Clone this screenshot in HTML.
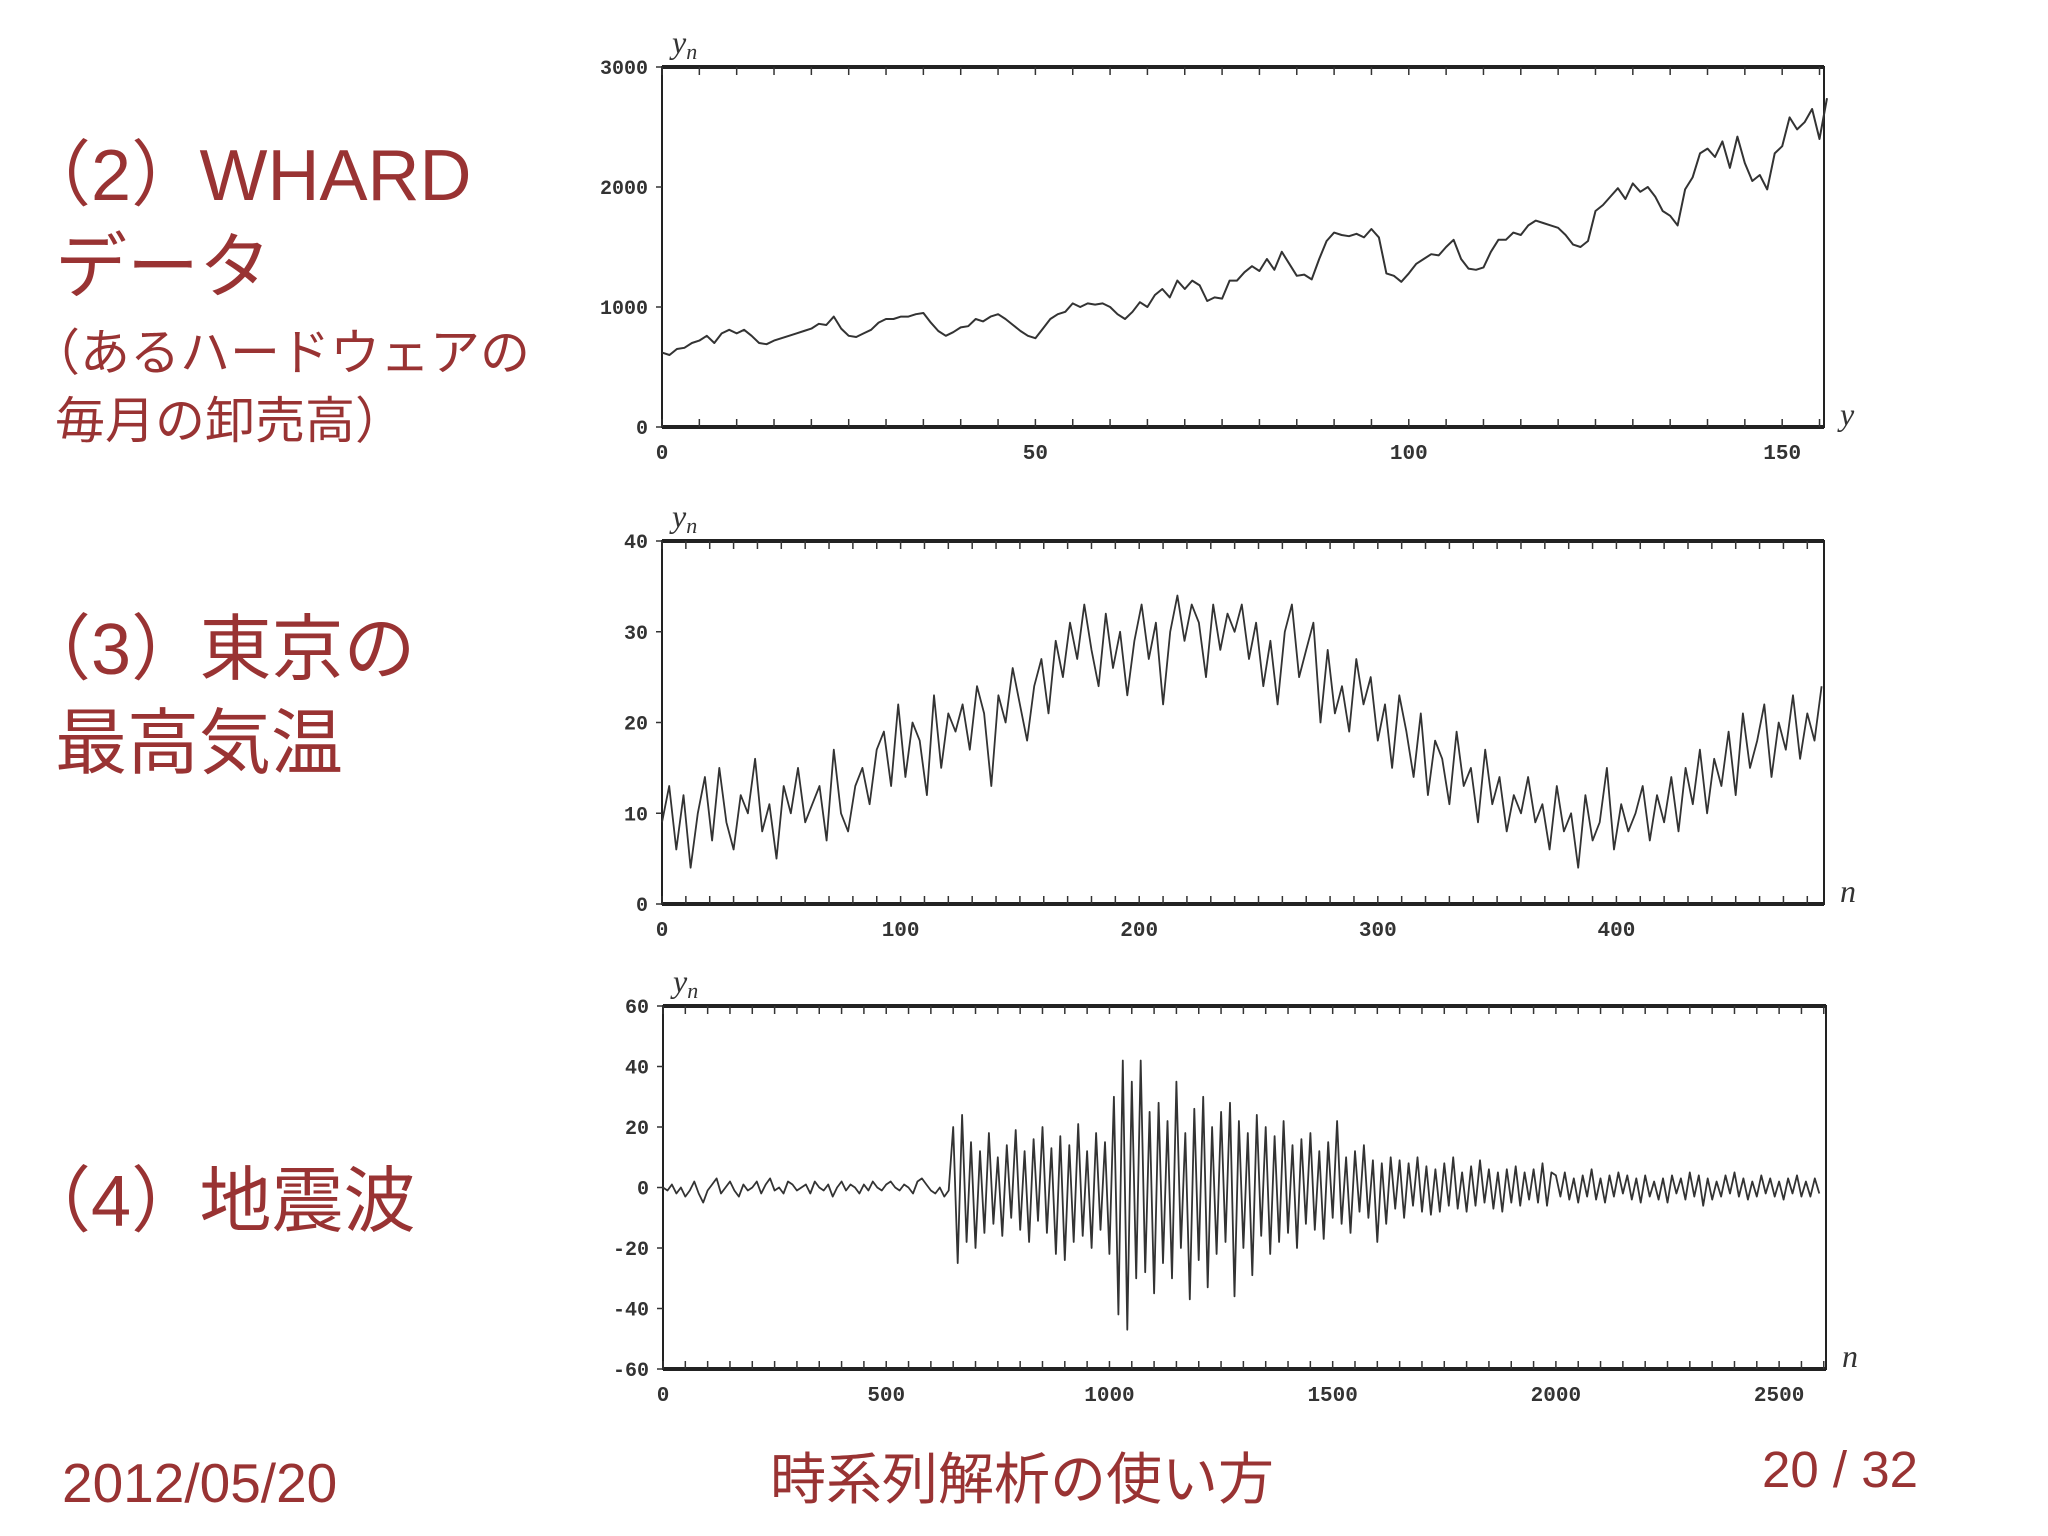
<!DOCTYPE html>
<html><head><meta charset="utf-8">
<style>
html,body{margin:0;padding:0;background:#fff;}
body{width:2048px;height:1536px;position:relative;overflow:hidden;font-family:"Liberation Sans","Noto Sans CJK JP",sans-serif;}
.t{position:absolute;color:#993333;white-space:nowrap;line-height:1;}
.po{margin-left:-0.5em;}
.pc{margin-right:-0.05em;}
svg{position:absolute;left:0;top:0;}
</style></head><body>
<div class="t" style="left:55px;top:140px;font-size:72px;"><span class="po">（</span>2<span class="pc">）</span>WHARD</div>
<div class="t" style="left:55px;top:232px;font-size:72px;">データ</div>
<div class="t" style="left:55px;top:328px;font-size:50px;"><span class="po">（</span>あるハードウェアの</div>
<div class="t" style="left:55px;top:396px;font-size:50px;">毎月の卸売高）</div>
<div class="t" style="left:55px;top:614px;font-size:72px;"><span class="po">（</span>3<span class="pc">）</span>東京の</div>
<div class="t" style="left:55px;top:708px;font-size:72px;">最高気温</div>
<div class="t" style="left:55px;top:1166px;font-size:72px;"><span class="po">（</span>4<span class="pc">）</span>地震波</div>
<div class="t" style="left:62px;top:1456px;font-size:55px;">2012/05/20</div>
<div class="t" style="left:770px;top:1452px;font-size:56px;">時系列解析の使い方</div>
<div class="t" style="left:1762px;top:1444px;font-size:51px;">20 / 32</div>
<svg id="s" width="2048" height="1536"></svg>
<script>
const whardValues=[620,600,650,660,700,720,760,700,780,810,780,810,760,700,690,720,740,760,780,800,820,860,850,920,820,760,750,780,810,870,900,900,920,920,940,950,870,800,760,790,830,840,900,880,920,940,900,850,800,760,740,820,900,940,960,1030,1000,1030,1020,1030,1000,940,900,960,1040,1000,1100,1150,1080,1220,1150,1220,1180,1050,1080,1070,1220,1220,1290,1340,1300,1400,1310,1460,1360,1260,1270,1230,1400,1550,1620,1600,1590,1610,1580,1650,1580,1280,1260,1210,1280,1360,1400,1440,1430,1500,1560,1400,1320,1310,1330,1460,1560,1560,1620,1600,1680,1720,1700,1680,1660,1600,1520,1500,1550,1800,1850,1920,1990,1900,2030,1960,2000,1920,1800,1760,1680,1980,2080,2280,2320,2250,2380,2160,2420,2200,2050,2100,1980,2280,2340,2580,2480,2540,2650,2400,2740];
const whardXTicks=[0,50,100,150];
const whardYTicks=[0,1000,2000,3000];
const tempStep=3;
const tempValues=[9,13,6,12,4,10,14,7,15,9,6,12,10,16,8,11,5,13,10,15,9,
11,13,7,17,10,8,13,15,11,17,19,13,22,14,20,18,12,23,15,21,
19,22,17,24,21,13,23,20,26,22,18,24,27,21,29,25,31,27,33,28,
24,32,26,30,23,29,33,27,31,22,30,34,29,33,31,25,33,28,32,30,
33,27,31,24,29,22,30,33,25,28,31,20,28,21,24,19,27,22,25,18,
22,15,23,19,14,21,12,18,16,11,19,13,15,9,17,11,14,8,12,10,
14,9,11,6,13,8,10,4,12,7,9,15,6,11,8,10,13,7,12,9,
14,8,15,11,17,10,16,13,19,12,21,15,18,22,14,20,17,23,16,21,18,24];
const tempXTicks=[0,100,200,300,400];
const tempYTicks=[0,10,20,30,40];
const quakeStep=10;
const quakeValues=[0,-1,1,-2,0,-3,-1,2,-2,-5,-1,1,3,-2,0,2,-1,-3,1,-1,0,2,-2,1,3,-1,0,-2,2,1,-1,0,1,-2,2,0,-1,1,-3,0,2,-1,1,0,-2,1,-1,2,0,-1,1,2,0,-1,1,0,-2,2,3,1,-1,-2,0,-3,-1,
20,-25,24,-18,15,-20,12,-15,18,-12,10,-16,14,-10,19,-14,12,-18,16,-11,20,-15,13,-22,17,-24,14,-18,21,-16,12,-20,18,-14,15,-22,
30,-42,42,-47,35,-30,42,-28,25,-35,
28,-25,22,-30,35,-20,18,-37,26,-24,30,-33,20,-22,25,-18,28,-36,22,-20,18,-29,24,-16,20,-22,17,-18,22,-15,14,-20,16,-12,18,-14,12,-17,15,-10,
22,-12,10,-15,12,-8,14,-10,9,-18,8,-12,10,-7,9,-10,8,-6,10,-8,7,-9,6,-8,8,-6,10,-7,5,-8,7,-6,9,-5,6,-7,5,-8,6,-5,7,-6,5,-4,6,-5,8,-6,5,
4,-3,5,-4,3,-5,4,-3,6,-4,3,-5,4,-3,5,-2,4,-4,3,-5,4,-3,2,-4,3,-5,4,-2,3,-4,5,-3,4,-6,3,-4,2,-3,4,-2,5,-3,3,-4,2,-3,4,-2,3,-3,2,-4,3,-2,4,-3,2,-3,3,-2];
const quakeXTicks=[0,500,1000,1500,2000,2500];
const quakeYTicks=[-60,-40,-20,0,20,40,60];

const NS='http://www.w3.org/2000/svg';
const svg=document.getElementById('s');
function mk(tag,attrs,parent){const e=document.createElementNS(NS,tag);for(const k in attrs)e.setAttribute(k,attrs[k]);(parent||svg).appendChild(e);return e;}

function chart(o){
  const g=mk('g',{});
  
  
  const sx=v=>o.L+(v-o.x0)/(o.x1-o.x0)*(o.R-o.L);
  const sy=v=>o.B-(v-o.y0)/(o.y1-o.y0)*(o.B-o.T);
  const frame=mk('rect',{x:o.L,y:o.T,width:o.R-o.L,height:o.B-o.T,fill:'none',stroke:'#222','stroke-width':2},g);
  
  
  mk('line',{x1:o.L,x2:o.R,y1:o.T,y2:o.T,stroke:'#222','stroke-width':4},g);
  mk('line',{x1:o.L,x2:o.R,y1:o.B,y2:o.B,stroke:'#222','stroke-width':4},g);
  for(let v=o.x0;v<=o.x1;v+=o.minor){const x=sx(v);
    mk('line',{x1:x,x2:x,y1:o.T,y2:o.T+8,stroke:'#333','stroke-width':1.5},g);
    mk('line',{x1:x,x2:x,y1:o.B,y2:o.B-8,stroke:'#333','stroke-width':1.5},g);}
  o.xt.forEach(v=>{const t=mk('text',{x:sx(v),y:o.B+32,'text-anchor':'middle','font-size':21,'font-weight':'bold','font-family':'Liberation Mono, monospace',fill:'#333'},g);t.textContent=v;
    
    });
  o.yt.forEach(v=>{const y=sy(v);mk('line',{x1:o.L-6,x2:o.L,y1:y,y2:y,stroke:'#333','stroke-width':1.5},g);
    const t=mk('text',{x:o.L-14,y:y+7,'text-anchor':'end','font-size':20,'font-weight':'bold','font-family':'Liberation Mono, monospace',fill:'#333'},g);t.textContent=v;
    
    });
  const yl=mk('text',{x:o.L+10,y:o.T-14,'font-size':32,'font-style':'italic','font-family':'Liberation Serif, serif',fill:'#333'},g);
  yl.innerHTML='y<tspan font-size="22" dy="6">n</tspan>';
  
  
  const xl=mk('text',{x:o.R+16,y:o.B-2,'font-size':32,'font-style':'italic','font-family':'Liberation Serif, serif',fill:'#333'},g);
  xl.textContent=o.xlab;
  
  
  const pts=o.vals.map((v,i)=>sx(i*o.step).toFixed(1)+','+sy(v).toFixed(1)).join(' ');
  const pl=mk('polyline',{points:pts,fill:'none',stroke:'#333','stroke-width':o.sw,'stroke-linejoin':'round'},g);
  
  
}
chart({name:'whard-chart',L:662,R:1824,T:67,B:427,x0:0,x1:155.6,y0:0,y1:3000,minor:5,xt:whardXTicks,yt:whardYTicks,vals:whardValues,step:1,xlab:'y',sw:2});
chart({name:'tokyo-temp-chart',L:662,R:1824,T:541,B:904,x0:0,x1:487,y0:0,y1:40,minor:10,xt:tempXTicks,yt:tempYTicks,vals:tempValues,step:tempStep,xlab:'n',sw:1.8});
chart({name:'earthquake-chart',L:663,R:1826,T:1006,B:1369,x0:0,x1:2605,y0:-60,y1:60,minor:50,xt:quakeXTicks,yt:quakeYTicks,vals:quakeValues,step:quakeStep,xlab:'n',sw:1.8});
</script>
</body></html>
